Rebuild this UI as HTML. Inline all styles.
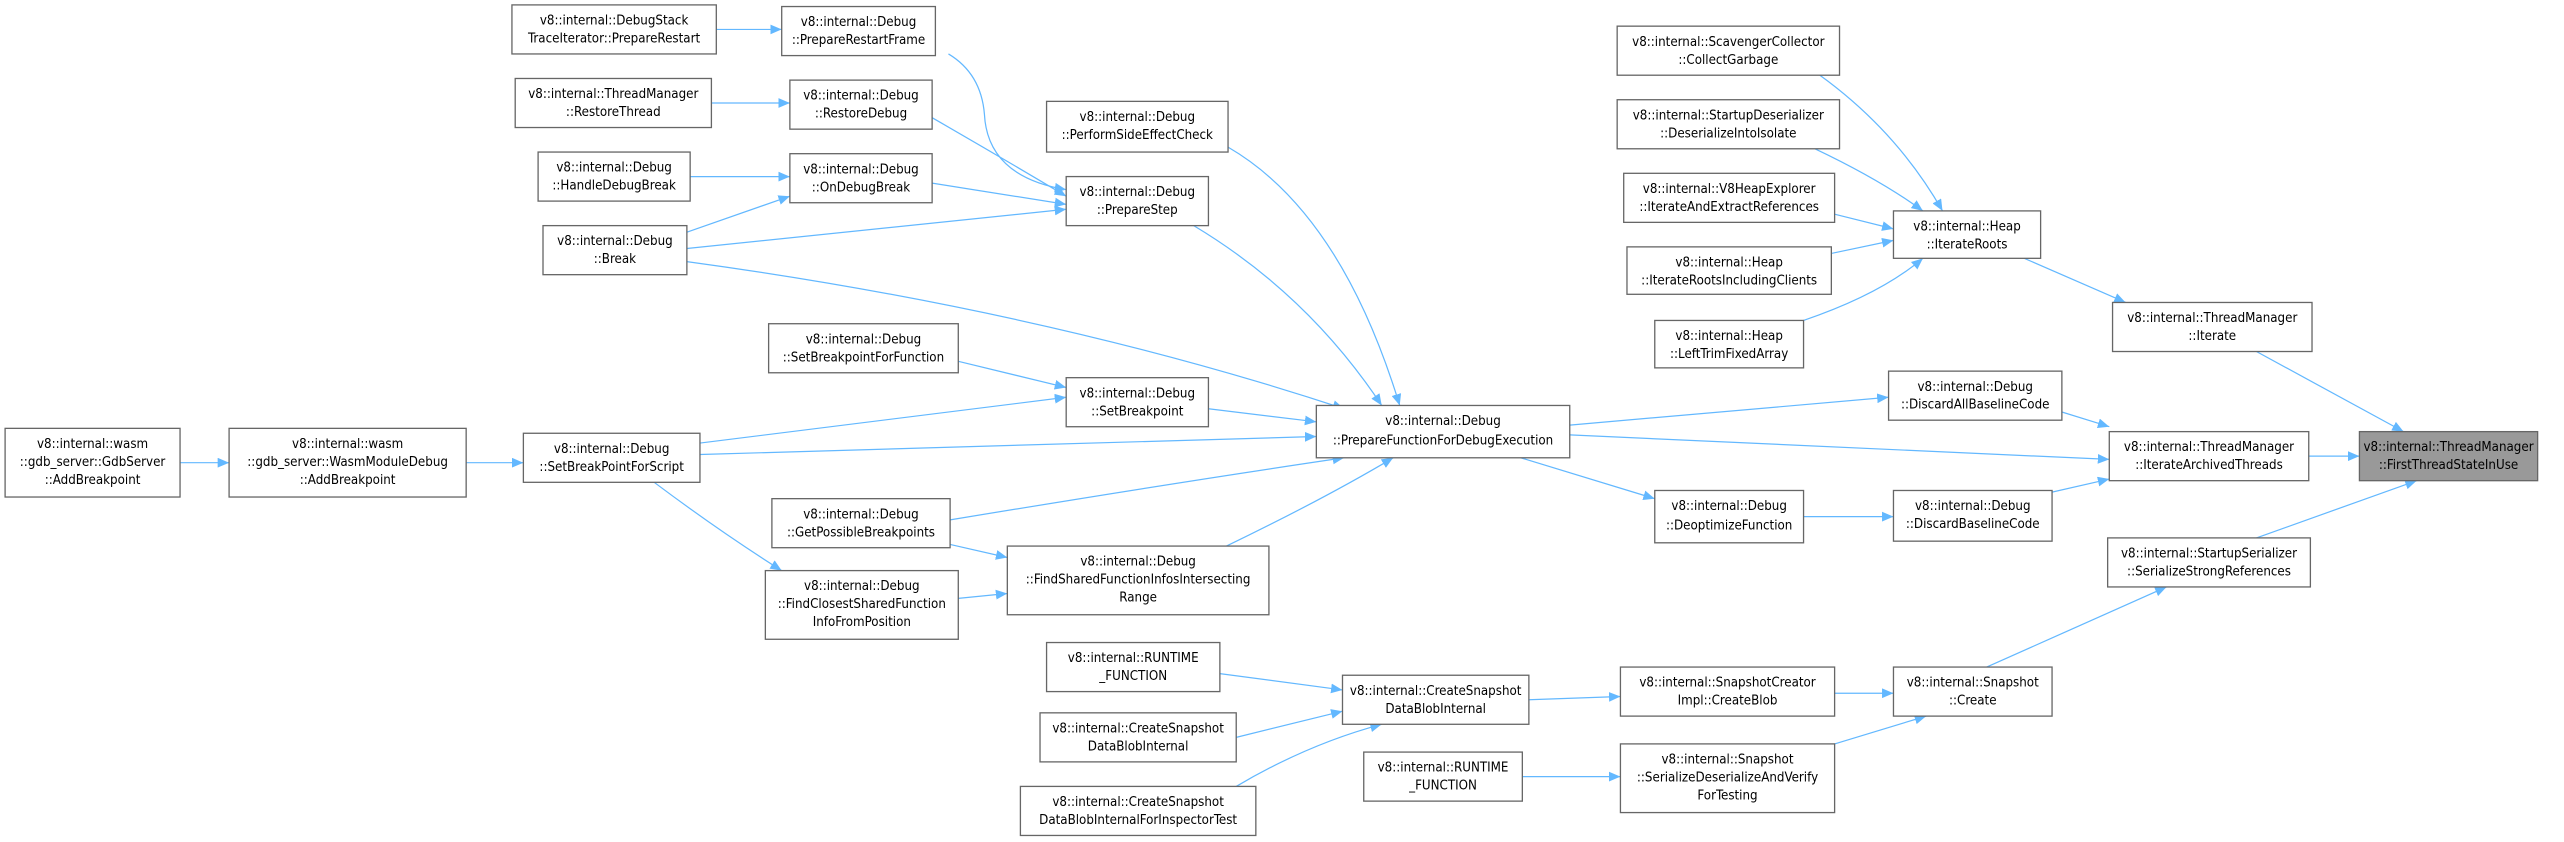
<!DOCTYPE html>
<html><head><meta charset="utf-8"><style>
html,body{margin:0;padding:0;background:#fff;}
svg{display:block;}
text{font-family:"Liberation Sans Narrow","DejaVu Sans Condensed","Liberation Sans",sans-serif;font-size:8.1px;fill:#000;text-anchor:middle;}
.b{fill:#fff;stroke:#666;stroke-width:0.8;}
.g{fill:#999;stroke:#666;stroke-width:0.8;}
.e{fill:none;stroke:#63b8ff;stroke-width:0.75;marker-end:url(#a);}
</style></head><body>
<svg width="2564" height="842" viewBox="0 0 1568 515" xmlns="http://www.w3.org/2000/svg">
<defs><marker id="a" markerUnits="userSpaceOnUse" markerWidth="8" markerHeight="6" refX="7" refY="3" orient="auto"><path d="M0,0 L7,3 L0,6 z" fill="#63b8ff"/></marker></defs>

<path class="e" d="M438,18 L478,18"/>
<path class="e" d="M435,63 L483,63"/>
<path class="e" d="M422,108 L483,108"/>
<path class="e" d="M420,142 L483,120"/>
<path class="e" d="M420,152 L652,128"/>
<path class="e" d="M420,160 Q640,190 822,250"/>
<path class="e" d="M580,33 Q600,45 602,70 Q604,108 652,116"/>
<path class="e" d="M570,72 Q610,95 652,120"/>
<path class="e" d="M570,112 L652,125"/>
<path class="e" d="M751,90 Q820,130 856,248"/>
<path class="e" d="M730,138 Q800,180 845,248"/>
<path class="e" d="M586,221 L652,237"/>
<path class="e" d="M428,271 L652,243"/>
<path class="e" d="M428,278 L805,267"/>
<path class="e" d="M739,250 L805,258"/>
<path class="e" d="M581,318 Q720,295 822,280"/>
<path class="e" d="M750,334 Q810,305 852,280"/>
<path class="e" d="M581,333 L616,341"/>
<path class="e" d="M586,366 L616,363"/>
<path class="e" d="M400,295 Q440,325 478,349"/>
<path class="e" d="M110,283 L140,283"/>
<path class="e" d="M285,283 L320,283"/>
<path class="e" d="M960,260 L1155,243"/>
<path class="e" d="M960,266 L1290,281"/>
<path class="e" d="M930,280 L1012,305"/>
<path class="e" d="M1103,316 L1158,316"/>
<path class="e" d="M1261,252 L1290,261"/>
<path class="e" d="M1255,301 L1290,293"/>
<path class="e" d="M1113,46 Q1160,80 1188,129"/>
<path class="e" d="M1110,91 Q1150,110 1176,129"/>
<path class="e" d="M1122,131 L1158,140"/>
<path class="e" d="M1120,155 L1158,147"/>
<path class="e" d="M1103,196 Q1150,180 1176,158"/>
<path class="e" d="M1238,158 L1300,185"/>
<path class="e" d="M1380,215 L1470,264"/>
<path class="e" d="M1412,279 L1443,279"/>
<path class="e" d="M1380,329 L1478,294"/>
<path class="e" d="M1215,408 L1325,359"/>
<path class="e" d="M746,412 L821,422"/>
<path class="e" d="M756,451 L821,435"/>
<path class="e" d="M756,481 Q800,455 845,443"/>
<path class="e" d="M935,428 L991,426"/>
<path class="e" d="M1122,424 L1158,424"/>
<path class="e" d="M931,475 L991,475"/>
<path class="e" d="M1122,455 L1178,438"/>

<rect class="b" x="3" y="262" width="107" height="42"/><text x="56.5" y="274">v8::internal::wasm</text><text x="56.5" y="285">::gdb_server::GdbServer</text><text x="56.5" y="296">::AddBreakpoint</text>
<rect class="b" x="140" y="262" width="145" height="42"/><text x="212.5" y="274">v8::internal::wasm</text><text x="212.5" y="285">::gdb_server::WasmModuleDebug</text><text x="212.5" y="296">::AddBreakpoint</text>

<rect class="b" x="313" y="3" width="125" height="30"/><text x="375.5" y="15">v8::internal::DebugStack</text><text x="375.5" y="26">TraceIterator::PrepareRestart</text>
<rect class="b" x="315" y="48" width="120" height="30"/><text x="375" y="60">v8::internal::ThreadManager</text><text x="375" y="71">::RestoreThread</text>
<rect class="b" x="329" y="93" width="93" height="30"/><text x="375.5" y="105">v8::internal::Debug</text><text x="375.5" y="116">::HandleDebugBreak</text>
<rect class="b" x="332" y="138" width="88" height="30"/><text x="376" y="150">v8::internal::Debug</text><text x="376" y="161">::Break</text>
<rect class="b" x="320" y="265" width="108" height="30"/><text x="374" y="277">v8::internal::Debug</text><text x="374" y="288">::SetBreakPointForScript</text>

<rect class="b" x="470" y="198" width="116" height="30"/><text x="528" y="210">v8::internal::Debug</text><text x="528" y="221">::SetBreakpointForFunction</text>
<rect class="b" x="472" y="305" width="109" height="30"/><text x="526.5" y="317">v8::internal::Debug</text><text x="526.5" y="328">::GetPossibleBreakpoints</text>
<rect class="b" x="468" y="349" width="118" height="42"/><text x="527" y="361">v8::internal::Debug</text><text x="527" y="372">::FindClosestSharedFunction</text><text x="527" y="383">InfoFromPosition</text>

<rect class="b" x="478" y="4" width="94" height="30"/><text x="525" y="16">v8::internal::Debug</text><text x="525" y="27">::PrepareRestartFrame</text>
<rect class="b" x="483" y="49" width="87" height="30"/><text x="526.5" y="61">v8::internal::Debug</text><text x="526.5" y="72">::RestoreDebug</text>
<rect class="b" x="483" y="94" width="87" height="30"/><text x="526.5" y="106">v8::internal::Debug</text><text x="526.5" y="117">::OnDebugBreak</text>

<rect class="b" x="640" y="62" width="111" height="31"/><text x="695.5" y="74">v8::internal::Debug</text><text x="695.5" y="85">::PerformSideEffectCheck</text>
<rect class="b" x="652" y="108" width="87" height="30"/><text x="695.5" y="120">v8::internal::Debug</text><text x="695.5" y="131">::PrepareStep</text>
<rect class="b" x="652" y="231" width="87" height="30"/><text x="695.5" y="243">v8::internal::Debug</text><text x="695.5" y="254">::SetBreakpoint</text>
<rect class="b" x="616" y="334" width="160" height="42"/><text x="696" y="346">v8::internal::Debug</text><text x="696" y="357">::FindSharedFunctionInfosIntersecting</text><text x="696" y="368">Range</text>
<rect class="b" x="640" y="393" width="106" height="30"/><text x="693" y="405">v8::internal::RUNTIME</text><text x="693" y="416">_FUNCTION</text>
<rect class="b" x="636" y="436" width="120" height="30"/><text x="696" y="448">v8::internal::CreateSnapshot</text><text x="696" y="459">DataBlobInternal</text>
<rect class="b" x="624" y="481" width="144" height="30"/><text x="696" y="493">v8::internal::CreateSnapshot</text><text x="696" y="504">DataBlobInternalForInspectorTest</text>

<rect class="b" x="805" y="248" width="155" height="32"/><text x="882.5" y="260">v8::internal::Debug</text><text x="882.5" y="272">::PrepareFunctionForDebugExecution</text>
<rect class="b" x="821" y="413" width="114" height="30"/><text x="878" y="425">v8::internal::CreateSnapshot</text><text x="878" y="436">DataBlobInternal</text>
<rect class="b" x="834" y="460" width="97" height="30"/><text x="882.5" y="472">v8::internal::RUNTIME</text><text x="882.5" y="483">_FUNCTION</text>

<rect class="b" x="989" y="16" width="136" height="30"/><text x="1057" y="28">v8::internal::ScavengerCollector</text><text x="1057" y="39">::CollectGarbage</text>
<rect class="b" x="989" y="61" width="136" height="30"/><text x="1057" y="73">v8::internal::StartupDeserializer</text><text x="1057" y="84">::DeserializeIntoIsolate</text>
<rect class="b" x="993" y="106" width="129" height="30"/><text x="1057.5" y="118">v8::internal::V8HeapExplorer</text><text x="1057.5" y="129">::IterateAndExtractReferences</text>
<rect class="b" x="995" y="151" width="125" height="29"/><text x="1057.5" y="163">v8::internal::Heap</text><text x="1057.5" y="174">::IterateRootsIncludingClients</text>
<rect class="b" x="1012" y="196" width="91" height="29"/><text x="1057.5" y="208">v8::internal::Heap</text><text x="1057.5" y="219">::LeftTrimFixedArray</text>
<rect class="b" x="1158" y="129" width="90" height="29"/><text x="1203" y="141">v8::internal::Heap</text><text x="1203" y="152">::IterateRoots</text>
<rect class="b" x="1155" y="227" width="106" height="30"/><text x="1208" y="239">v8::internal::Debug</text><text x="1208" y="250">::DiscardAllBaselineCode</text>
<rect class="b" x="1158" y="300" width="97" height="31"/><text x="1206.5" y="312">v8::internal::Debug</text><text x="1206.5" y="323">::DiscardBaselineCode</text>
<rect class="b" x="1012" y="300" width="91" height="32"/><text x="1057.5" y="312">v8::internal::Debug</text><text x="1057.5" y="324">::DeoptimizeFunction</text>
<rect class="b" x="991" y="408" width="131" height="30"/><text x="1056.5" y="420">v8::internal::SnapshotCreator</text><text x="1056.5" y="431">Impl::CreateBlob</text>
<rect class="b" x="991" y="455" width="131" height="42"/><text x="1056.5" y="467">v8::internal::Snapshot</text><text x="1056.5" y="478">::SerializeDeserializeAndVerify</text><text x="1056.5" y="489">ForTesting</text>
<rect class="b" x="1158" y="408" width="97" height="30"/><text x="1206.5" y="420">v8::internal::Snapshot</text><text x="1206.5" y="431">::Create</text>

<rect class="b" x="1292" y="185" width="122" height="30"/><text x="1353" y="197">v8::internal::ThreadManager</text><text x="1353" y="208">::Iterate</text>
<rect class="b" x="1290" y="264" width="122" height="30"/><text x="1351" y="276">v8::internal::ThreadManager</text><text x="1351" y="287">::IterateArchivedThreads</text>
<rect class="b" x="1289" y="329" width="124" height="30"/><text x="1351" y="341">v8::internal::StartupSerializer</text><text x="1351" y="352">::SerializeStrongReferences</text>
<rect class="g" x="1443" y="264" width="109" height="30"/><text x="1497.5" y="276">v8::internal::ThreadManager</text><text x="1497.5" y="287">::FirstThreadStateInUse</text>
</svg>
</body></html>
